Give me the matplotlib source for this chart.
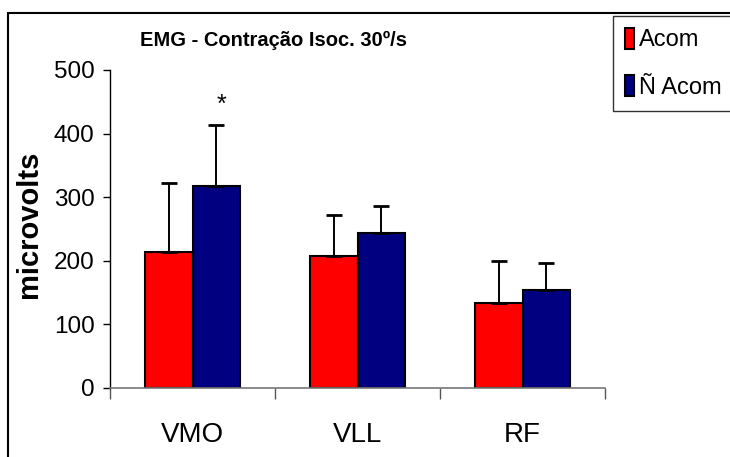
import matplotlib
matplotlib.use("Agg")
import matplotlib.pyplot as plt
import numpy as np
from matplotlib.patches import Rectangle

# mean EMG amplitude (microvolts) per muscle, with upper SD
muscles = ["VMO", "VLL", "RF"]
acom = [214, 208, 134]
acom_sd = [108, 64, 66]
nacom = [318, 244, 153]
nacom_sd = [95, 42, 43]
groups = ["Acom", "Ñ Acom"]
star_value = 445

plt.rcParams["font.family"] = ["Liberation Sans", "DejaVu Sans"]

fig = plt.figure(figsize=(7.3, 4.57), dpi=100)
ax = fig.add_axes([110 / 730, 1 - 387.7 / 457, 495 / 730, 317.7 / 457])

x = np.arange(len(muscles))
w = 0.285
err_kw = dict(ecolor="black", elinewidth=1.4, capsize=5.5, capthick=2)
ax.bar(x - w / 2, acom, w, color="#ff0000", edgecolor="black", linewidth=1.5,
       yerr=[np.zeros(3), acom_sd], error_kw=err_kw, label=groups[0], zorder=2)
ax.bar(x + w / 2, nacom, w, color="#000080", edgecolor="black", linewidth=1.5,
       yerr=[np.zeros(3), nacom_sd], error_kw=err_kw, label=groups[1], zorder=2)
ax.text(x[0] + w / 2 + 0.035, star_value, "*", ha="center", va="center", fontsize=18)

ax.set_xlim(-0.5, 2.5)
ax.set_ylim(0, 500)
ax.set_yticks([0, 100, 200, 300, 400, 500])
ax.tick_params(axis="y", labelsize=17.5, length=5, width=1, pad=6)
ax.set_xticks(x)
ax.set_xticklabels(muscles)
ax.tick_params(axis="x", which="major", length=0, labelsize=20, pad=25)
ax.set_xticks([-0.5, 0.5, 1.5, 2.5], minor=True)
ax.tick_params(axis="x", which="minor", length=8, width=1, color="#555555")
for s in ["top", "right"]:
    ax.spines[s].set_visible(False)
ax.spines["left"].set_linewidth(1)
ax.spines["bottom"].set_color("#777777")
ax.spines["bottom"].set_linewidth(1.2)

ax.set_ylabel("microvolts", fontsize=21, fontweight="bold")
ax.yaxis.set_label_coords(-0.135, 0.515)

fig.text(273 / 730, 1 - 40 / 457, "EMG - Contração Isoc. 30º/s", ha="center", va="center",
         fontsize=14.5, fontweight="bold")

leg = ax.legend(loc="upper left", bbox_to_anchor=(613 / 730, 1 - 16 / 457),
                bbox_transform=fig.transFigure, frameon=True, fancybox=False,
                handlelength=0.4, handleheight=1.0, handletextpad=0.2, labelspacing=1.0,
                borderpad=0.5, borderaxespad=0, prop={"size": 17})
leg.get_frame().set_edgecolor("black")
leg.get_frame().set_linewidth(1)

# outer chart frame
fig.add_artist(Rectangle((8 / 730, -0.2), 1.2, 1.2 - 13 / 457, transform=fig.transFigure,
                         fill=False, edgecolor="black", linewidth=1.5))

fig.savefig("out.png", dpi=100)
